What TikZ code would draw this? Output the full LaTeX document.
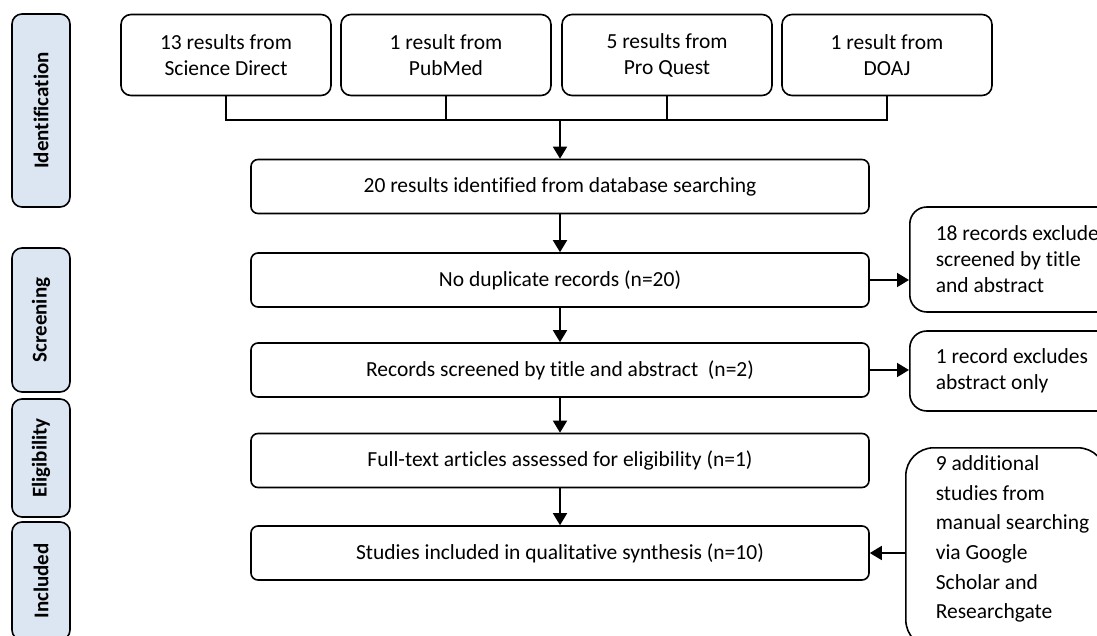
\documentclass[tikz,border=0pt]{standalone}
\usepackage{fontspec}
\setmainfont{Carlito}[Ligatures=NoCommon]
\usetikzlibrary{arrows.meta}
\usetikzlibrary{positioning}
\definecolor{phaseblue}{HTML}{DCE6F2}
\tikzset{
    phase/.style={draw=black, fill=phaseblue, rounded corners=10pt, rotate=90,
        minimum height=58pt, inner sep=0pt, font=\bfseries\fontsize{21}{24}\selectfont},
    source/.style={draw=black, rounded corners=10pt, minimum width=210pt,
        minimum height=81pt, inner sep=0pt, align=center},
    stepbox/.style={draw=black, rounded corners=7pt, minimum width=618pt,
        minimum height=54pt, inner sep=0pt},
    sidebox/.style={draw=black, rounded corners=17pt, align=left,
        inner xsep=26pt, inner ysep=0pt, anchor=west},
    link/.style={draw=black},
    flow/.style={draw=black, -{Triangle[length=12pt,width=14pt]}},
}

\begin{document}
\begin{tikzpicture}[x=1pt, y=-1pt, line width=1.6pt, font=\fontsize{21.5}{26}\selectfont]
	\useasboundingbox (0,0) rectangle (1097,636);
	\clip (0,0) rectangle (1097,636);
	% phases
	\node[phase, minimum width=193pt] (idphase) at (41,110.5) {Identification};
	\node[phase, minimum width=144pt] (scphase) at (41,320) {Screening};
	\node[phase, minimum width=118pt] (elphase) at (41,458) {Eligibility};
	\node[phase, minimum width=118pt] (inphase) at (41,581) {Included};
	% databases
	\node[source] (sd) at (226,55) {13 results from\\Science Direct};
	\node[source] (pm) at (446,55) {1 result from\\PubMed};
	\node[source] (pq) at (667,55) {5 results from\\Pro Quest};
	\node[source] (doaj) at (887,55) {1 result from\\DOAJ};
	% main flow
	\node[stepbox] (found) at (560,186.5) {20 results identified from database searching};
	\node[stepbox] (nodup) at (560,280) {No duplicate records (n=20)};
	\node[stepbox] (screen) at (560,370) {Records screened by title and abstract \ (n=2)};
	\node[stepbox] (full) at (560,460.5) {Full-text articles assessed for eligibility (n=1)};
	\node[stepbox] (incl) at (560,553) {Studies included in qualitative synthesis (n=10)};
	% side boxes
	\node[sidebox, minimum height=105pt] (excl1) at (909,259.5) {18 records exclude\\screened by title\\and abstract};
	\node[sidebox, minimum height=80pt] (excl2) at (909,371) {1 record excludes\\abstract only};
	\node[draw=black, rounded corners=28pt, minimum width=200pt, minimum height=200pt,
		anchor=north west] (extra) at (905,447) {};
	\node[anchor=north west, align=left, inner sep=0pt, font=\fontsize{21.5}{29.6}\selectfont]
		(extratext) at (935,455) {9 additional\\studies from\\manual searching\\via Google\\Scholar and\\Researchgate};
	% connectors
	\coordinate (bus) at (560,120);
	\draw[link] (sd.south) -- (sd.south |- bus) -| (doaj.south);
	\draw[link] (pm.south) -- (pm.south |- bus);
	\draw[link] (pq.south) -- (pq.south |- bus);
	\draw[flow] (bus) -- (found);
	\draw[flow] (found) -- (nodup);
	\draw[flow] (nodup) -- (screen);
	\draw[flow] (screen) -- (full);
	\draw[flow] (full) -- (incl);
	\draw[flow] (nodup.east) -- (nodup.east -| excl1.west);
	\draw[flow] (screen.east) -- (screen.east -| excl2.west);
	\draw[flow] (extra.west |- incl) -- (incl.east);
\end{tikzpicture}
\end{document}
